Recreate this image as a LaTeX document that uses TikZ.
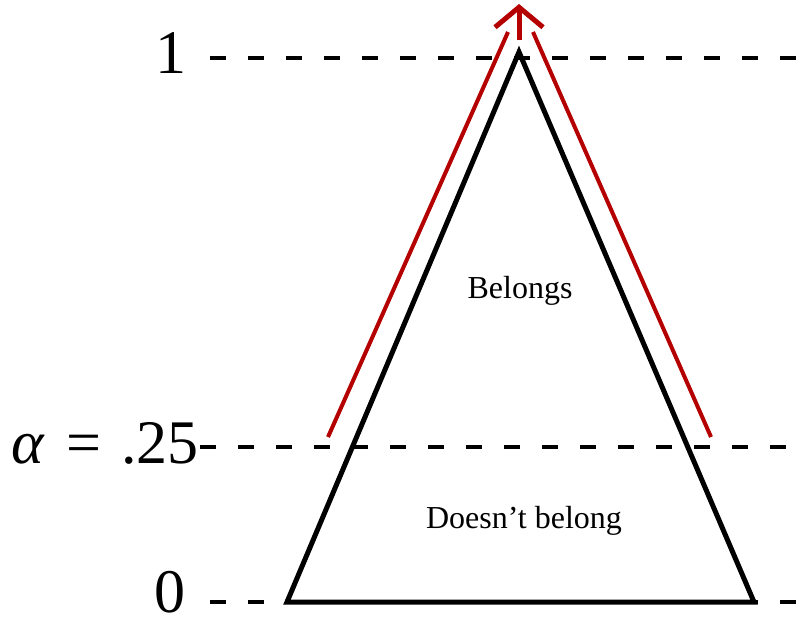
\documentclass[tikz,border=0pt]{standalone}
\usepackage{fontspec}
\setmainfont{Liberation Serif}
\usetikzlibrary{arrows.meta}
\definecolor{arrowred}{RGB}{180,0,0}
\tikzset{
  level/.style={line width=3.5pt, dash pattern=on 16pt off 22pt},
  tri/.style={line width=5pt, line join=miter},
  redline/.style={arrowred, line width=4pt},
  biglabel/.style={font=\fontsize{62}{62}\selectfont, inner sep=0pt},
  small/.style={font=\fontsize{32}{32}\selectfont, inner sep=0pt}
}
\begin{document}
\begin{tikzpicture}[x=1pt, y=-1pt]
\useasboundingbox (0,0) rectangle (802,619);
% coordinates
\coordinate (apex) at (519,52);
\coordinate (bl) at (287,602);
\coordinate (br) at (754,602);
\coordinate (l1s) at (210,58);  \coordinate (l1e) at (802,58);
\coordinate (las) at (200,447); \coordinate (lae) at (802,447);
\coordinate (l0s) at (210,602); \coordinate (l0e) at (802,602);
\coordinate (rl1) at (328,437); \coordinate (rl2) at (508,32);
\coordinate (rr1) at (711,437); \coordinate (rr2) at (533,32);
\coordinate (as) at (519,40);   \coordinate (at) at (519,4);
% labels
\node[biglabel, anchor=base east] (one) at (187,73) {1};
\node[biglabel, anchor=base east] (alpha) at (199,463) {{\itshape α}\kern22pt=\kern20pt.25};
\node[biglabel, anchor=base east] (zero) at (186,612) {0};
\node[small, anchor=base] (bel) at (520,298) {Belongs};
\node[small, anchor=base] (dnb) at (524,528) {Doesn’t belong};
% dashed levels
\draw[level] (l1s) -- (l1e);
\draw[level] (las) -- (lae);
\draw[level] (l0s) -- (l0e);
% triangle
\draw[tri] (bl) -- (apex) -- (br) -- cycle;
% red arrows
\draw[redline] (rl1) -- (rl2);
\draw[redline] (rr1) -- (rr2);
\draw[redline, line width=5pt, -{Straight Barb[length=20pt,width=48pt]}] (as) -- (at);
\end{tikzpicture}
\end{document}
